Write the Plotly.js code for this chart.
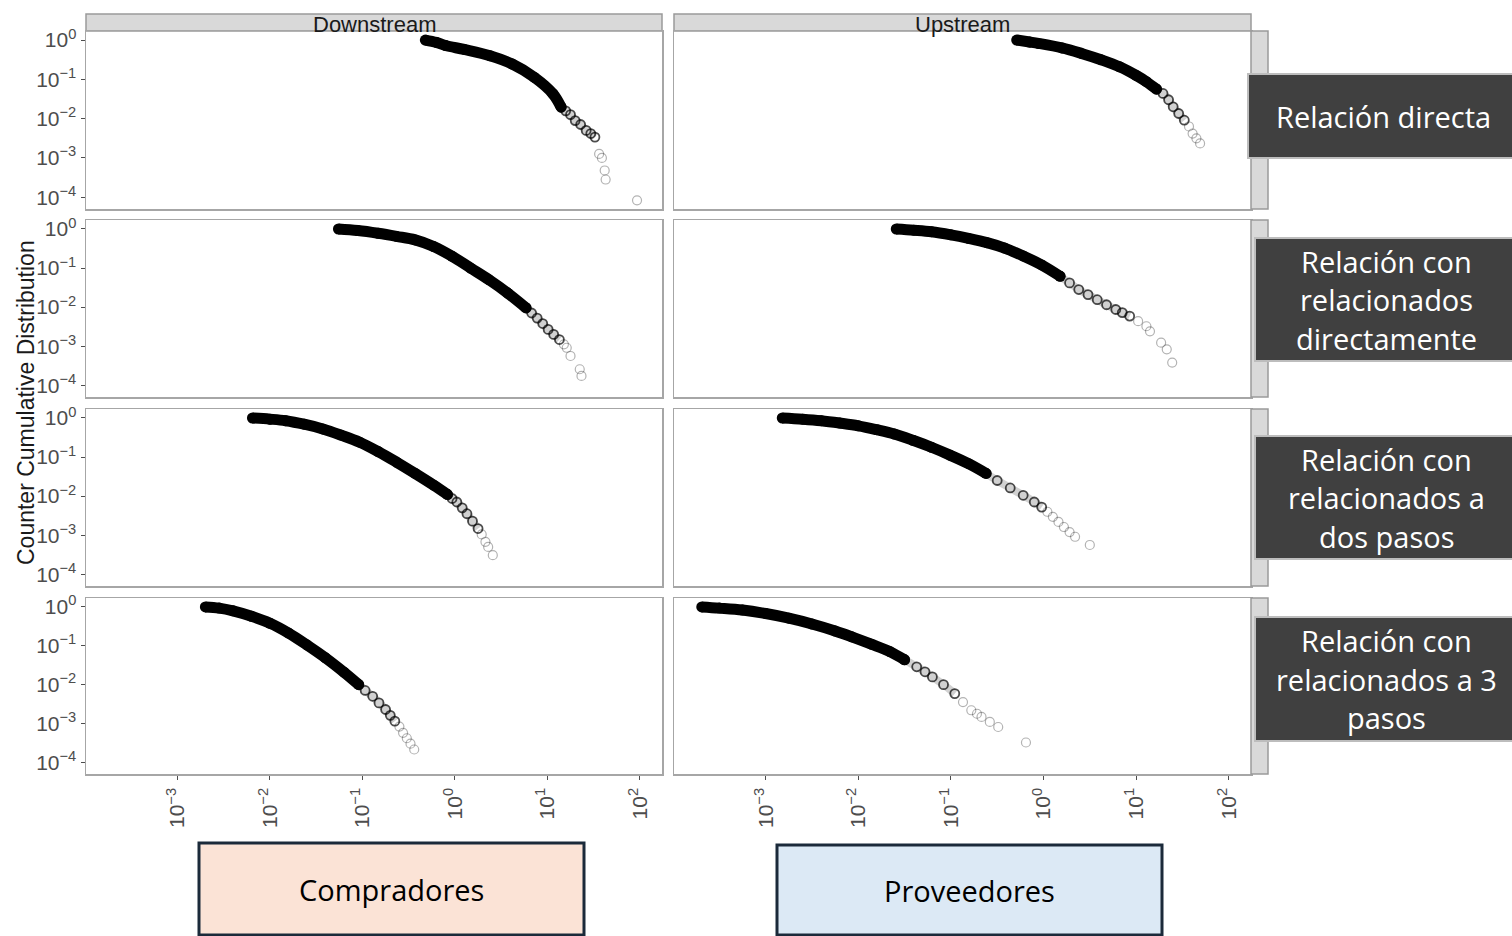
<!DOCTYPE html>
<html><head><meta charset="utf-8">
<script src="https://cdn.plot.ly/plotly-3.0.1.min.js"></script>
<style>html,body{margin:0;padding:0;background:#fff;} #chart{width:1512px;height:936px;}</style>
</head><body><div id="chart"></div>
<script>
// ---------- data ----------
const columns = ["Downstream", "Upstream"];
const rowLabels = [
  ["Relación directa"],
  ["Relación con", "relacionados", "directamente"],
  ["Relación con", "relacionados a", "dos pasos"],
  ["Relación con", "relacionados a 3", "pasos"]
];
const groupLabels = ["Compradores", "Proveedores"];
const yTitle = "Counter Cumulative Distribution";
const yTickVals = [1, 0.1, 0.01, 0.001, 0.0001];
const yTickText = ["10<sup>0</sup>", "10<sup>−1</sup>", "10<sup>−2</sup>", "10<sup>−3</sup>", "10<sup>−4</sup>"];
const xTickVals = [0.001, 0.01, 0.1, 1, 10, 100];
const xTickText = ["10<sup>−3</sup>", "10<sup>−2</sup>", "10<sup>−1</sup>", "10<sup>0</sup>", "10<sup>1</sup>", "10<sup>2</sup>"];

const downDirectX = [0.479, 0.631, 0.794, 1.26, 2.40, 4.17, 7.24, 11.5, 14.1, 15.8, 17.8, 20.0, 22.9, 26.3, 29.5, 32.7, 36.3, 38.9, 41.7, 42.7, 93.3];
const downDirectY = [1, 0.871, 0.724, 0.575, 0.398, 0.245, 0.112, 0.0427, 0.0195, 0.0158, 0.0126, 0.00891, 0.00708, 0.00501, 0.00417, 0.00339, 0.00126, 0.001, 0.000479, 0.000282, 0.0000832];
const upDirectX = [0.513, 0.708, 0.879, 1.58, 2.57, 4.17, 6.61, 10.0, 12.9, 16.6, 19.5, 22.4, 25.1, 28.8, 33.1, 37.2, 40.7, 44.7, 49.0];
const upDirectY = [1, 0.891, 0.822, 0.631, 0.457, 0.316, 0.209, 0.126, 0.0871, 0.0562, 0.0437, 0.0302, 0.0200, 0.0135, 0.00912, 0.00631, 0.00417, 0.00316, 0.00234];

const downStep1X = [0.0550, 0.0891, 0.148, 0.234, 0.372, 0.589, 0.933, 1.48, 2.34, 3.72, 5.89, 6.76, 7.76, 8.91, 10.2, 11.7, 13.5, 15.1, 16.2, 17.8, 22.4, 23.4];
const downStep1Y = [1, 0.912, 0.776, 0.646, 0.525, 0.355, 0.200, 0.1, 0.0501, 0.0229, 0.00955, 0.00708, 0.00525, 0.00380, 0.00269, 0.00200, 0.00148, 0.00112, 0.000912, 0.000562, 0.000257, 0.000174];
const upStep1X = [0.0257, 0.0398, 0.0617, 0.1, 0.155, 0.245, 0.380, 0.603, 0.955, 1.51, 1.91, 2.40, 3.02, 3.80, 4.79, 6.03, 7.08, 8.51, 10.5, 12.9, 14.1, 18.6, 21.4, 24.5];
const upStep1Y = [1, 0.933, 0.851, 0.708, 0.575, 0.447, 0.324, 0.204, 0.120, 0.0617, 0.0417, 0.0282, 0.0209, 0.0155, 0.0115, 0.00871, 0.00724, 0.00589, 0.00437, 0.00324, 0.00240, 0.00123, 0.000832, 0.000380];

const downStep2X = [0.00646, 0.01, 0.0148, 0.0234, 0.0372, 0.0589, 0.0933, 0.148, 0.234, 0.372, 0.589, 0.832, 0.933, 1.05, 1.20, 1.35, 1.55, 1.78, 1.95, 2.14, 2.29, 2.57];
const downStep2Y = [1, 0.933, 0.851, 0.692, 0.525, 0.363, 0.240, 0.138, 0.0741, 0.0380, 0.0191, 0.0110, 0.00871, 0.00708, 0.00501, 0.00355, 0.00229, 0.00148, 0.00105, 0.000676, 0.000501, 0.000309];
const upStep2X = [0.00151, 0.00251, 0.00398, 0.00631, 0.01, 0.0158, 0.0245, 0.0389, 0.0617, 0.0977, 0.155, 0.240, 0.316, 0.437, 0.603, 0.794, 0.955, 1.10, 1.26, 1.45, 1.66, 1.91, 2.19, 3.16];
const upStep2Y = [1, 0.933, 0.851, 0.741, 0.631, 0.501, 0.389, 0.269, 0.178, 0.112, 0.0676, 0.0380, 0.0251, 0.0162, 0.0105, 0.00708, 0.00525, 0.00398, 0.00295, 0.00219, 0.00162, 0.00120, 0.000912, 0.000562];

const downStep3X = [0.00200, 0.00282, 0.00398, 0.00631, 0.01, 0.0158, 0.0251, 0.0398, 0.0631, 0.0912, 0.107, 0.129, 0.151, 0.178, 0.200, 0.224, 0.251, 0.275, 0.302, 0.331, 0.363];
const downStep3Y = [1, 0.933, 0.794, 0.575, 0.380, 0.214, 0.105, 0.0490, 0.0209, 0.01, 0.00708, 0.00501, 0.00339, 0.00229, 0.00162, 0.00115, 0.000832, 0.000575, 0.000417, 0.000302, 0.000214];
const upStep3X = [0.000204, 0.000316, 0.000562, 0.001, 0.00178, 0.00316, 0.00562, 0.00851, 0.0138, 0.0219, 0.0316, 0.0427, 0.0525, 0.0631, 0.0832, 0.110, 0.135, 0.166, 0.191, 0.214, 0.263, 0.324, 0.646];
const upStep3Y = [1, 0.933, 0.832, 0.676, 0.513, 0.363, 0.240, 0.170, 0.110, 0.0708, 0.0437, 0.0288, 0.0214, 0.0158, 0.01, 0.00589, 0.00355, 0.00219, 0.00178, 0.00148, 0.00110, 0.000813, 0.000324];

// ---------- layout / style ----------
const W = 1512, H = 936;
const PX = v => v / W, PY = v => 1 - v / H;
const panels = [
  [downDirectX, downDirectY], [upDirectX, upDirectY],
  [downStep1X, downStep1Y], [upStep1X, upStep1Y],
  [downStep2X, downStep2Y], [upStep2X, upStep2Y],
  [downStep3X, downStep3Y], [upStep3X, upStep3Y]
];
// how many leading points form the dense (solid) band, then the semi-dense ring zone
const tone = [[9,7],[10,5],[11,6],[10,8],[12,6],[12,5],[10,6],[11,5]];
const colPx = [[86, 662], [674, 1251]];
const rowPx = [[31, 209], [220, 397], [409, 586], [598, 774]];
const xRange = [-3.99, 2.24], yRange = [-4.3, 0.23];
const axFont = {family: "Liberation Sans, Arial, sans-serif", size: 21, color: "#4d4d4d"};
const boxFont = "Open Sans, Noto Sans, sans-serif";

const traces = [];
const layout = {
  width: W, height: H, margin: {l: 0, r: 0, t: 0, b: 0},
  paper_bgcolor: "#fff", plot_bgcolor: "#fff", showlegend: false, hovermode: false,
  shapes: [], annotations: []
};

panels.forEach((p, i) => {
  const n = i + 1, r = Math.floor(i / 2), c = i % 2;
  const [xs, ys] = p, [nb, nm] = tone[i];
  const key = n === 1 ? "" : n;
  const xa = "x" + key, ya = "y" + key;
  // semi-dense zone: faint band under overlapping rings
  traces.push({x: xs.slice(nb - 1, nb + nm), y: ys.slice(nb - 1, nb + nm), xaxis: xa, yaxis: ya, type: "scatter",
    mode: "lines", line: {color: "rgba(0,0,0,0.18)", width: 8, shape: "spline"}});
  traces.push({x: xs.slice(nb - 1, nb + nm), y: ys.slice(nb - 1, nb + nm), xaxis: xa, yaxis: ya, type: "scatter",
    mode: "markers", marker: {symbol: "circle-open", size: 9, color: "rgba(0,0,0,0.7)", line: {width: 1.8}}});
  // dense band
  traces.push({x: xs.slice(0, nb), y: ys.slice(0, nb), xaxis: xa, yaxis: ya, type: "scatter",
    mode: "lines+markers", line: {color: "#000", width: 11, shape: "spline"},
    marker: {symbol: "circle", size: 11, color: "#000"}});
  // sparse tail
  traces.push({x: xs.slice(nb + nm), y: ys.slice(nb + nm), xaxis: xa, yaxis: ya, type: "scatter",
    mode: "markers", marker: {symbol: "circle-open", size: 9, color: "rgba(0,0,0,0.3)", line: {width: 1.2}}});

  layout["xaxis" + key] = {
    type: "log", range: xRange, domain: [PX(colPx[c][0]), PX(colPx[c][1])], anchor: "y" + key,
    showgrid: false, zeroline: false, showline: true, mirror: true, linecolor: "#a6a6a6", linewidth: 1.5,
    tickvals: xTickVals, ticktext: xTickText, showticklabels: r === 3, ticks: r === 3 ? "outside" : "",
    ticklen: 4, tickcolor: "#4d4d4d", tickangle: -90, tickfont: axFont
  };
  layout["yaxis" + key] = {
    type: "log", range: yRange, domain: [PY(rowPx[r][1]), PY(rowPx[r][0])], anchor: "x" + key,
    showgrid: false, zeroline: false, showline: true, mirror: true, linecolor: "#a6a6a6", linewidth: 1.5,
    tickvals: yTickVals, ticktext: yTickText, showticklabels: c === 0, ticks: c === 0 ? "outside" : "",
    ticklen: 4, tickcolor: "#4d4d4d", tickfont: axFont
  };
});

// top strips
columns.forEach((name, c) => {
  layout.shapes.push({type: "rect", xref: "paper", yref: "paper", x0: PX(colPx[c][0]), x1: PX(colPx[c][1]),
    y0: PY(31), y1: PY(14), fillcolor: "#d9d9d9", line: {color: "#9a9a9a", width: 1.5}, layer: "below"});
  layout.annotations.push({xref: "paper", yref: "paper", x: PX((colPx[c][0] + colPx[c][1]) / 2), y: PY(24),
    text: name, showarrow: false, xanchor: "center", yanchor: "middle",
    font: {family: "Liberation Sans, Arial, sans-serif", size: 22, color: "#1a1a1a"}});
});
// right strips (partly hidden)
rowPx.forEach(rp => {
  layout.shapes.push({type: "rect", xref: "paper", yref: "paper", x0: PX(1251), x1: PX(1268),
    y0: PY(rp[1]), y1: PY(rp[0]), fillcolor: "#d9d9d9", line: {color: "#9a9a9a", width: 1.5}});
});
// dark row-label boxes
const boxPx = [[1248, 74, 158], [1255, 238, 361], [1255, 436, 559], [1255, 617, 741]];
rowLabels.forEach((lines, r) => {
  const [bx, y0, y1] = boxPx[r];
  layout.shapes.push({type: "rect", xref: "paper", yref: "paper", x0: PX(bx), x1: PX(1513),
    y0: PY(y1), y1: PY(y0), fillcolor: "#404040", line: {color: "#bdbdbd", width: 2}});
  const cx = (bx + 1512) / 2 + 3, cy = (y0 + y1) / 2, step = 38.5;
  lines.forEach((t, k) => {
    layout.annotations.push({xref: "paper", yref: "paper", x: PX(cx), y: PY(cy + (k - (lines.length - 1) / 2) * step),
      text: t, showarrow: false, xanchor: "center", yanchor: "middle",
      font: {family: boxFont, size: 29, color: "#ffffff"}});
  });
});
// bottom group boxes
const groupPx = [[199, 584, 843, 935, "#fbe3d6"], [777, 1162, 845, 935, "#dce9f5"]];
groupLabels.forEach((t, g) => {
  const [x0, x1, y0, y1, fill] = groupPx[g];
  layout.shapes.push({type: "rect", xref: "paper", yref: "paper", x0: PX(x0), x1: PX(x1),
    y0: PY(y1), y1: PY(y0), fillcolor: fill, line: {color: "#1b2a3a", width: 3}});
  layout.annotations.push({xref: "paper", yref: "paper", x: PX((x0 + x1) / 2), y: PY((y0 + y1) / 2),
    text: t, showarrow: false, xanchor: "center", yanchor: "middle",
    font: {family: boxFont, size: 29, color: "#000000"}});
});
// y title
layout.annotations.push({xref: "paper", yref: "paper", x: PX(26), y: PY(403), text: yTitle, textangle: -90,
  showarrow: false, xanchor: "center", yanchor: "middle",
  font: {family: "Liberation Sans, Arial, sans-serif", size: 23, color: "#1a1a1a"}});

Plotly.newPlot("chart", traces, layout, {displayModeBar: false, staticPlot: true});
</script></body></html>
